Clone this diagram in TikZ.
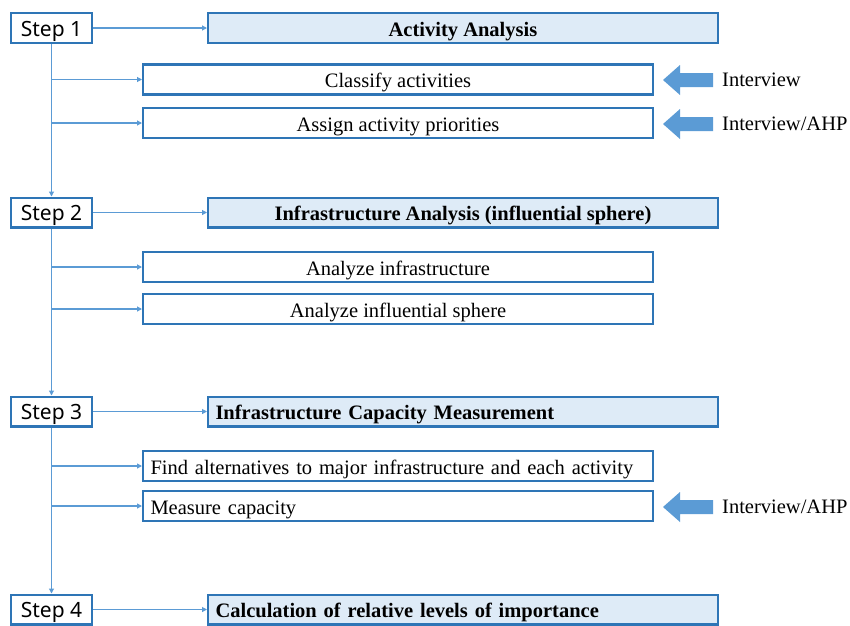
\documentclass[tikz,border=0pt]{standalone}
\usepackage{fontspec}
\setmainfont{Liberation Serif}
\newfontfamily\stepfont{Noto Sans}
\usetikzlibrary{arrows.meta}
\definecolor{boxblue}{HTML}{2E75B6}
\definecolor{lineblue}{HTML}{5B9BD5}
\definecolor{headfill}{HTML}{DEEBF7}
\tikzset{
  stepbox/.style={draw=boxblue,line width=2.4pt,fill=white,minimum width=80.6,minimum height=29.6,inner sep=0pt,text height=16pt,text depth=0pt,font=\stepfont\fontsize{21}{24}\selectfont},
  headbox/.style={draw=boxblue,line width=2.4pt,fill=headfill,minimum width=509.6,minimum height=29.6,inner sep=0pt,text height=16pt,text depth=0pt,font=\bfseries\fontsize{20.5}{24}\selectfont},
  subbox/.style={draw=boxblue,line width=2.4pt,fill=white,minimum width=509.6,minimum height=30,inner sep=0pt,text height=16.5pt,text depth=0pt,font=\fontsize{20.5}{24}\selectfont},
  leftbox/.style={text width=495,align=left,inner xsep=7pt},
  link/.style={draw=lineblue,line width=1.1pt,-{Triangle[length=5pt,width=5pt]}},
  fatarrow/.pic={\fill[lineblue] (25,-7) -- (-8,-7) -- (-8,-15) -- (-25,0) -- (-8,15) -- (-8,7) -- (25,7) -- cycle;},
  source/.style={anchor=west,inner sep=0pt,font=\fontsize{20.5}{24}\selectfont}
}
\begin{document}
\begin{tikzpicture}[x=1pt,y=-1pt]
\useasboundingbox (0,0) rectangle (850,625);
\node[stepbox] (s1) at (51.5,28) {Step 1};
\node[stepbox] (s2) at (51.5,212.5) {Step 2};
\node[stepbox] (s3) at (51.5,411.5) {Step 3};
\node[stepbox] (s4) at (51.5,609.5) {Step 4};
\node[headbox] (h1) at (463,28) {Activity Analysis};
\node[headbox] (h2) at (463,212.5) {Infrastructure Analysis (influential sphere)};
\node[headbox,leftbox] (h3) at (463,411.5) {Infrastructure Capacity Measurement};
\node[headbox,leftbox] (h4) at (463,609.5) {Calculation of relative levels of importance};
\node[subbox] (a1) at (398,79.5) {Classify activities};
\node[subbox] (a2) at (398,123) {Assign activity priorities};
\node[subbox] (b1) at (398,267) {Analyze infrastructure};
\node[subbox] (b2) at (398,309) {Analyze influential sphere};
\node[subbox,leftbox] (c1) at (398,466) {Find alternatives to major infrastructure and each activity};
\node[subbox,leftbox] (c2) at (398,506) {Measure capacity};
\pic (f1) at (688,80) {fatarrow};
\pic (f2) at (688,124) {fatarrow};
\pic (f3) at (688,507) {fatarrow};
\node[source] (i1) at (722,80) {Interview};
\node[source] (i2) at (722,124) {Interview/AHP};
\node[source] (i3) at (722,507) {Interview/AHP};
\foreach \s/\h in {s1/h1,s2/h2,s3/h3,s4/h4}
  \draw[link] (\s.east) -- (\h.west);
\draw[link] (s1.south) -- (s2.north);
\draw[link] (s2.south) -- (s3.north);
\draw[link] (s3.south) -- (s4.north);
\foreach \s/\a in {s1/a1,s1/a2,s2/b1,s2/b2,s3/c1,s3/c2}
  \draw[link] (\s.south |- \a.west) -- (\a.west);
\end{tikzpicture}
\end{document}
